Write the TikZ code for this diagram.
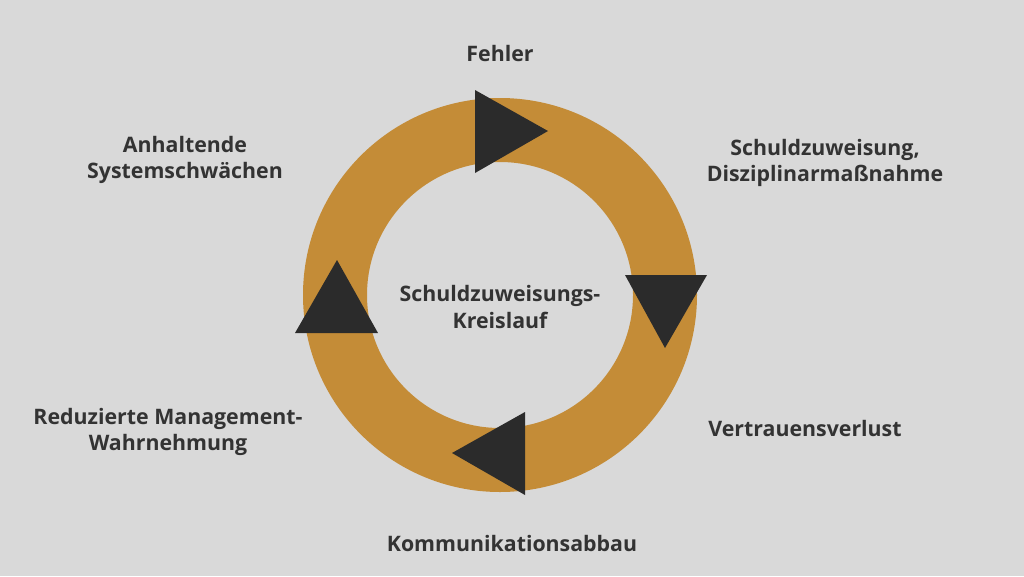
\documentclass[tikz,border=0pt]{standalone}
\usepackage{fontspec}
\setmainfont{Open Sans}
\begin{document}
\begin{tikzpicture}[x=0.75pt,y=-0.75pt,
  lbl/.style={text=txt,font=\fontsize{16}{20}\selectfont\bfseries,align=center},
  tri/.style={fill=tri}]
\definecolor{bg}{HTML}{D9D9D9}
\definecolor{ring}{HTML}{C48C37}
\definecolor{tri}{HTML}{2B2B2B}
\definecolor{txt}{HTML}{333333}
\fill[bg] (0,0) rectangle (1024,576);
\useasboundingbox (0,0) rectangle (1024,576);
\fill[ring,even odd rule] (500,295) circle[radius=197] (500,295) circle[radius=133];
\fill[tri] (475,90) -- (475,173) -- (548,131) -- cycle;
\fill[tri] (625,275) -- (707,275) -- (665,348) -- cycle;
\fill[tri] (525,412) -- (525,495) -- (452,453) -- cycle;
\fill[tri] (337,260) -- (378,333) -- (295,333) -- cycle;
\node[lbl] (f) at (500,53) {Fehler};
\node[lbl] (s) at (825,163) {Schuldzuweisung,\\Disziplinarmaßnahme};
\node[lbl] (a) at (185,160) {Anhaltende\\Systemschwächen};
\node[lbl] (c) at (500,307) {Schuldzuweisungs-\\Kreislauf};
\node[lbl] (r) at (168,432) {Reduzierte Management-\\Wahrnehmung};
\node[lbl] (v) at (805,428) {Vertrauensverlust};
\node[lbl] (k) at (512,543) {Kommunikationsabbau};
\end{tikzpicture}
\end{document}
